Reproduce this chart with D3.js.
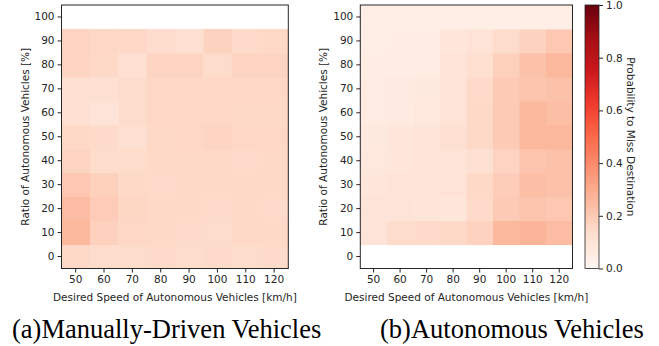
<!DOCTYPE html>
<html>
<head>
<meta charset="utf-8">
<script src="https://cdn.jsdelivr.net/npm/d3@7"></script>
<style>
  body { margin: 0; background: #fff; }
  text { font-family: "DejaVu Sans", sans-serif; fill: #262626; }
  .caption { font-family: "Liberation Serif", "Times New Roman", serif; fill: #000; }
</style>
</head>
<body>
<svg id="chart" width="659" height="346"></svg>
<script>
// desired speed categories (x) and AV ratio categories (y)
var speeds = [50, 60, 70, 80, 90, 100, 110, 120];
var ratios = [0, 10, 20, 30, 40, 50, 60, 70, 80, 90, 100];

// probability to miss destination, rows from ratio 0 up to 100
var manualMiss = [
  [0.15, 0.14, 0.14, 0.145, 0.14, 0.145, 0.14, 0.145],
  [0.26, 0.175, 0.155, 0.15, 0.145, 0.14, 0.15, 0.15],
  [0.245, 0.195, 0.16, 0.15, 0.15, 0.145, 0.15, 0.145],
  [0.21, 0.18, 0.15, 0.145, 0.15, 0.15, 0.15, 0.15],
  [0.165, 0.14, 0.14, 0.15, 0.15, 0.15, 0.145, 0.15],
  [0.15, 0.145, 0.125, 0.15, 0.155, 0.165, 0.155, 0.155],
  [0.125, 0.1, 0.14, 0.155, 0.155, 0.155, 0.15, 0.15],
  [0.125, 0.125, 0.14, 0.155, 0.155, 0.155, 0.155, 0.155],
  [0.165, 0.15, 0.125, 0.165, 0.165, 0.14, 0.165, 0.165],
  [0.165, 0.155, 0.155, 0.135, 0.125, 0.17, 0.145, 0.15],
  null
];
var autoMiss = [
  null,
  [0.1, 0.14, 0.145, 0.15, 0.17, 0.26, 0.27, 0.245],
  [0.1, 0.1, 0.095, 0.09, 0.145, 0.2, 0.22, 0.21],
  [0.09, 0.1, 0.11, 0.11, 0.15, 0.19, 0.24, 0.23],
  [0.08, 0.09, 0.1, 0.11, 0.125, 0.165, 0.22, 0.23],
  [0.07, 0.09, 0.1, 0.125, 0.15, 0.2, 0.26, 0.26],
  [0.06, 0.065, 0.08, 0.11, 0.15, 0.2, 0.26, 0.24],
  [0.06, 0.065, 0.07, 0.1, 0.145, 0.2, 0.22, 0.23],
  [0.05, 0.05, 0.055, 0.1, 0.13, 0.18, 0.23, 0.26],
  [0.04, 0.05, 0.055, 0.09, 0.11, 0.14, 0.17, 0.21],
  [0.04, 0.04, 0.04, 0.04, 0.04, 0.04, 0.04, 0.04]
];
var colorTicks = [0, 0.2, 0.4, 0.6, 0.8, 1.0];
var captions = ["(a)Manually-Driven Vehicles", "(b)Autonomous Vehicles"];

var svg = d3.select("#chart");
var reds = d3.schemeReds[9];
var color = d3.scaleLinear()
  .domain(reds.map(function(c, i) { return i / 8; }))
  .range(reds);

var plotTop = 5, plotBottom = 268.5;
var fs = 10.5;

function drawHeatmap(data, x0, x1, capX, caption) {
  var x = d3.scaleBand().domain(speeds).range([x0, x1]);
  var y = d3.scaleBand().domain(ratios).range([plotBottom, plotTop]);
  var g = svg.append("g");

  var cells = [];
  data.forEach(function(row, ri) {
    if (!row) return;
    row.forEach(function(v, ci) {
      cells.push({ s: speeds[ci], r: ratios[ri], v: v });
    });
  });

  g.selectAll("rect.cell").data(cells).enter().append("rect")
    .attr("class", "cell")
    .attr("x", function(d) { return x(d.s); })
    .attr("y", function(d) { return y(d.r); })
    .attr("width", x.bandwidth() + 0.5)
    .attr("height", y.bandwidth() + 0.5)
    .attr("fill", function(d) { return color(d.v); });

  g.append("rect")
    .attr("x", x0).attr("y", plotTop)
    .attr("width", x1 - x0).attr("height", plotBottom - plotTop)
    .attr("fill", "none").attr("stroke", "#262626").attr("stroke-width", 1);

  var xAxis = g.append("g")
    .attr("transform", "translate(0," + plotBottom + ")")
    .call(d3.axisBottom(x).tickSize(4).tickPadding(3));
  var yAxis = g.append("g")
    .attr("transform", "translate(" + x0 + ",0)")
    .call(d3.axisLeft(y).tickSize(4).tickPadding(3));
  [xAxis, yAxis].forEach(function(a) {
    a.select(".domain").remove();
    a.selectAll("line").attr("stroke", "#262626");
    a.selectAll("text").attr("font-size", fs).attr("font-family", "DejaVu Sans").attr("fill", "#262626");
  });

  g.append("text")
    .attr("x", (x0 + x1) / 2).attr("y", 301)
    .attr("text-anchor", "middle").attr("font-size", fs)
    .text("Desired Speed of Autonomous Vehicles [km/h]");
  g.append("text")
    .attr("transform", "translate(" + (x0 - 33) + "," + ((plotTop + plotBottom) / 2) + ") rotate(-90)")
    .attr("text-anchor", "middle").attr("font-size", fs)
    .text("Ratio of Autonomous Vehicles [%]");

  svg.append("text").attr("class", "caption")
    .attr("x", capX).attr("y", 338).attr("font-size", 26.5)
    .text(caption);
}

drawHeatmap(manualMiss, 61.5, 288.3, 12, captions[0]);
drawHeatmap(autoMiss, 360.3, 572.5, 380, captions[1]);

// colorbar
var cbX = 585, cbW = 14;
var cbScale = d3.scaleLinear().domain([0, 1]).range([plotBottom, plotTop]);
var grad = svg.append("defs").append("linearGradient")
  .attr("id", "cbgrad").attr("x1", 0).attr("y1", 1).attr("x2", 0).attr("y2", 0);
reds.forEach(function(c, i) {
  grad.append("stop").attr("offset", i / 8).attr("stop-color", c);
});
svg.append("rect")
  .attr("x", cbX).attr("y", plotTop).attr("width", cbW).attr("height", plotBottom - plotTop)
  .attr("fill", "url(#cbgrad)").attr("stroke", "#262626").attr("stroke-width", 0.8);
var cbAxis = svg.append("g")
  .attr("transform", "translate(" + (cbX + cbW) + ",0)")
  .call(d3.axisRight(cbScale).tickValues(colorTicks).tickFormat(d3.format(".1f")).tickSize(4).tickPadding(3));
cbAxis.select(".domain").remove();
cbAxis.selectAll("line").attr("stroke", "#262626");
cbAxis.selectAll("text").attr("font-size", fs).attr("font-family", "DejaVu Sans").attr("fill", "#262626");
svg.append("text")
  .attr("transform", "translate(631," + ((plotTop + plotBottom) / 2) + ") rotate(90)")
  .attr("text-anchor", "middle").attr("dominant-baseline", "central").attr("font-size", fs)
  .text("Probability to Miss Destination");
</script>
</body>
</html>
